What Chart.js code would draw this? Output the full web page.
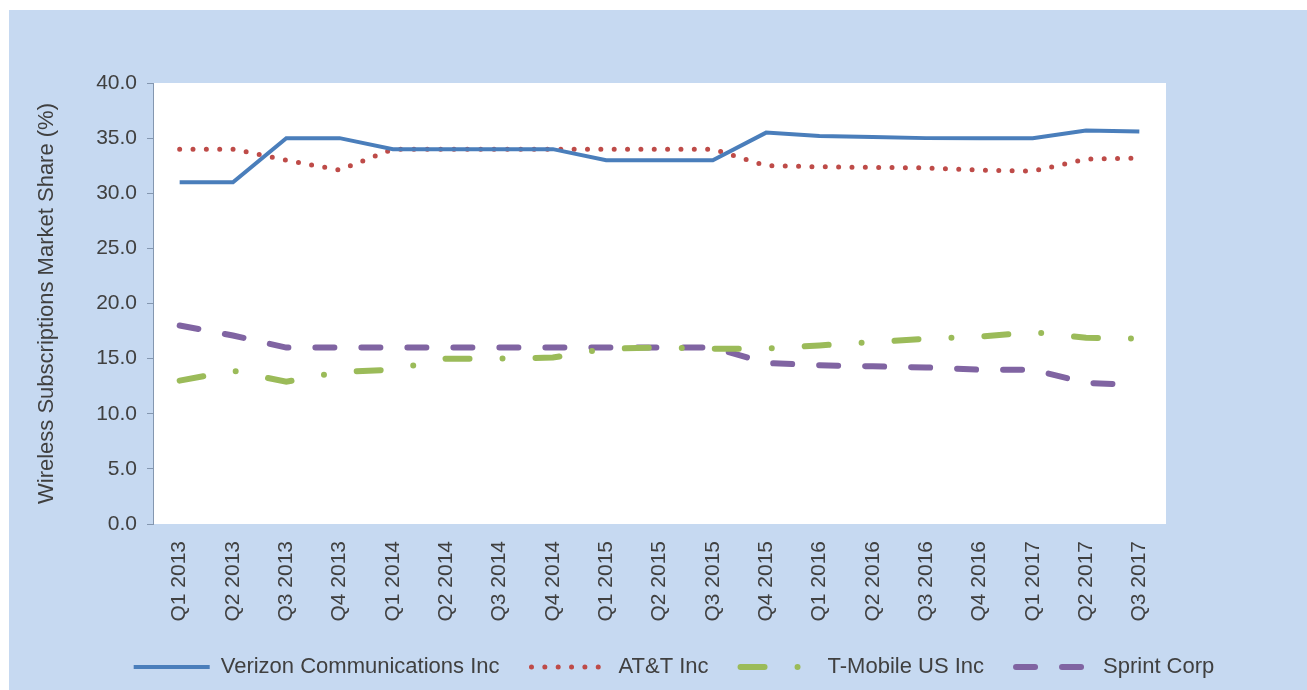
<!DOCTYPE html>
<html>
<head>
<meta charset="utf-8">
<script src="https://cdn.jsdelivr.net/npm/chart.js@4"></script>
<style>
    body { margin: 0; background: #fff; }
    #wrap { position: absolute; left: 9px; top: 10px; width: 1298px; height: 680px; background: #c6d9f1; }
</style>
</head>
<body>
<div id="wrap"><canvas id="shareChart" width="1298" height="680"></canvas></div>
<script>
const quarters = ['Q1 2013', 'Q2 2013', 'Q3 2013', 'Q4 2013', 'Q1 2014', 'Q2 2014', 'Q3 2014', 'Q4 2014',
    'Q1 2015', 'Q2 2015', 'Q3 2015', 'Q4 2015', 'Q1 2016', 'Q2 2016', 'Q3 2016', 'Q4 2016',
    'Q1 2017', 'Q2 2017', 'Q3 2017'];
const verizon = [31.0, 31.0, 35.0, 35.0, 34.0, 34.0, 34.0, 34.0, 33.0, 33.0, 33.0, 35.5, 35.2, 35.1, 35.0, 35.0, 35.0, 35.7, 35.6];
const att = [34.0, 34.0, 33.0, 32.1, 34.0, 34.0, 34.0, 34.0, 34.0, 34.0, 34.0, 32.5, 32.4, 32.35, 32.3, 32.1, 32.0, 33.1, 33.2];
const tmobile = [13.0, 13.9, 12.9, 13.8, 14.0, 15.0, 15.0, 15.1, 15.9, 16.0, 15.9, 15.9, 16.2, 16.5, 16.8, 17.0, 17.4, 16.9, 16.8];
const sprint = [18.0, 17.1, 16.0, 16.0, 16.0, 16.0, 16.0, 16.0, 16.0, 16.0, 16.0, 14.6, 14.4, 14.3, 14.2, 14.0, 14.0, 12.8, 12.6];
const yTicks = [0, 5, 10, 15, 20, 25, 30, 35, 40];

const FONT = "'Liberation Sans', Arial, sans-serif";
const TEXT = '#404040';

// white plot area on the blue background
const plotBackground = {
    id: 'plotBackground',
    beforeDraw(chart) {
        const { ctx, chartArea } = chart;
        ctx.save();
        ctx.fillStyle = '#ffffff';
        ctx.fillRect(chartArea.left, chartArea.top, chartArea.right - chartArea.left, chartArea.bottom - chartArea.top);
        ctx.restore();
    }
};

function lineSet(label, data, color, width, dash) {
    return {
        label: label,
        data: data,
        borderColor: color,
        backgroundColor: color,
        borderWidth: width,
        borderDash: dash,
        borderCapStyle: dash.length ? 'round' : 'butt',
        pointRadius: 0,
        pointHoverRadius: 0,
        tension: 0,
        fill: false
    };
}

// legend samples drawn as short lines with the dataset's own dash pattern
function legendItems(chart) {
    return chart.data.datasets.map((ds, i) => ({
        text: ds.label,
        datasetIndex: i,
        hidden: false,
        fontColor: TEXT,
        fillStyle: ds.borderColor,
        strokeStyle: ds.borderColor,
        lineWidth: ds.borderWidth,
        lineDash: ds.borderDash,
        lineCap: ds.borderCapStyle,
        pointStyle: 'line'
    }));
}

const ctx = document.getElementById('shareChart').getContext('2d');
new Chart(ctx, {
    type: 'line',
    data: {
        labels: quarters,
        datasets: [
            lineSet('Verizon Communications Inc', verizon, '#4a7ebb', 4, []),
            lineSet('AT&T Inc', att, '#be4b48', 5, [0, 13.35]),
            lineSet('T-Mobile US Inc', tmobile, '#9bbb59', 6, [24, 33, 0, 33]),
            lineSet('Sprint Corp', sprint, '#8064a2', 6, [19, 27])
        ]
    },
    options: {
        responsive: false,
        animation: false,
        devicePixelRatio: 1,
        layout: { padding: { left: 60, right: 28, top: 73, bottom: 2 } },
        plugins: {
            tooltip: { enabled: false },
            legend: {
                position: 'bottom',
                labels: {
                    usePointStyle: true,
                    pointStyleWidth: 76,
                    padding: 32,
                    color: TEXT,
                    font: { family: FONT, size: 22 },
                    generateLabels: legendItems
                }
            }
        },
        scales: {
            x: {
                offset: true,
                grid: { display: false, drawTicks: true, tickLength: 8 },
                border: { display: false },
                ticks: {
                    autoSkip: false,
                    maxRotation: 90,
                    minRotation: 90,
                    padding: 9,
                    color: TEXT,
                    font: { family: FONT, size: 21 }
                },
                afterFit: function(scale) { scale.height = 100; }
            },
            y: {
                min: 0,
                max: 40,
                afterBuildTicks: function(scale) { scale.ticks = yTicks.map(v => ({ value: v })); },
                grid: { drawOnChartArea: false, drawTicks: true, tickLength: 6, color: '#8497b0' },
                border: { display: true, color: '#8497b0', width: 1 },
                ticks: {
                    padding: 10,
                    color: TEXT,
                    font: { family: FONT, size: 21 },
                    callback: v => v.toFixed(1)
                },
                title: {
                    display: true,
                    text: 'Wireless Subscriptions Market Share (%)',
                    color: TEXT,
                    font: { family: FONT, size: 22 },
                    padding: { top: -35, bottom: 0 }
                },
                afterFit: function(scale) { scale.width = 84; }
            },
            // empty right axis only keeps the plot narrower than the legend row
            yRight: {
                position: 'right',
                grid: { display: false },
                border: { display: false },
                ticks: { display: false },
                afterFit: function(scale) { scale.width = 113; }
            }
        }
    },
    plugins: [plotBackground]
});
</script>
</body>
</html>
